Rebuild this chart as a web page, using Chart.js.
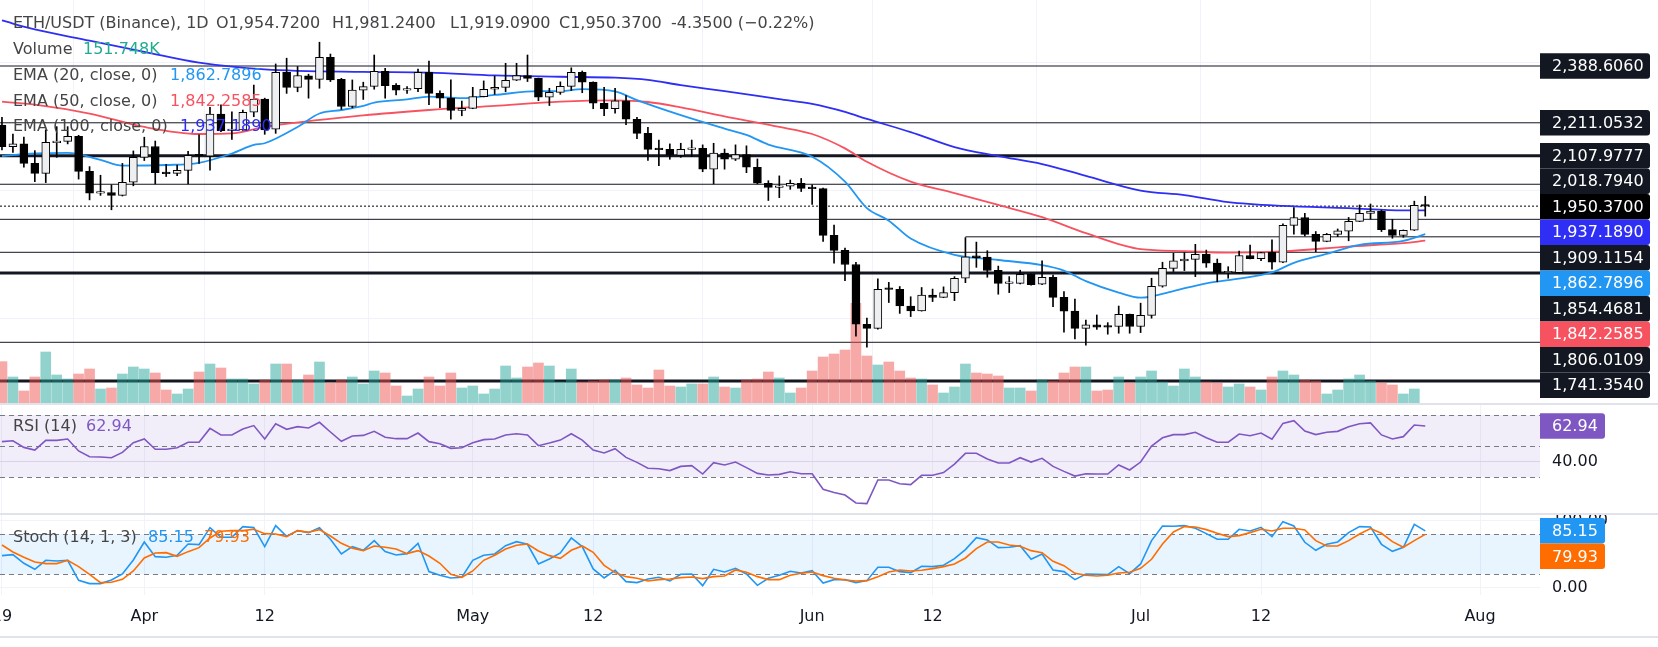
<!DOCTYPE html>
<html>
<head>
<meta charset="utf-8">
<script src="https://cdn.jsdelivr.net/npm/chart.js@4.4.0/dist/chart.umd.min.js"></script>
<style>
html, body { margin: 0; padding: 0; background: #fff; overflow: hidden; }
#wrap { position: relative; width: 1658px; height: 647px; }
canvas { position: absolute; left: 0; }
.sep { position: absolute; left: 0; width: 1658px; height: 2px; background: #e0e3eb; }
</style>
</head>
<body>
<div id="wrap">
  <canvas id="price" width="1658" height="403" style="top:0"></canvas>
  <div class="sep" style="top:403px"></div>
  <canvas id="rsi" width="1658" height="108" style="top:405px"></canvas>
  <div class="sep" style="top:513px"></div>
  <canvas id="stoch" width="1658" height="132" style="top:515px"></canvas>
  <div class="sep" style="top:636px"></div>
</div>
<script>
Chart.defaults.font.family = '"DejaVu Sans", sans-serif'
Chart.defaults.font.size = 16
Chart.defaults.animation = false

// day index: 0 = 1 Apr, first candle is 19 Mar
const firstDay = -13

// daily candles, 19 Mar .. 27 Jul
const open = [
  2204, 2136, 2145, 2084, 2053, 2149, 2153, 2169, 2059, 1991, 1993, 1984, 2025,
  2103, 2137, 2057, 2053, 2062, 2109, 2107, 2238, 2187, 2189, 2244, 2285, 2191, 2369, 2322, 2358, 2347, 2416, 2347, 2262, 2313, 2325, 2372, 2328, 2313, 2318, 2369, 2303, 2288, 2250,
  2256, 2293, 2316, 2322, 2344, 2359, 2350, 2291, 2306, 2325, 2369, 2338, 2272, 2255, 2280, 2222, 2178, 2128, 2128, 2109, 2128, 2131, 2066, 2116, 2097, 2112, 2072, 2022, 2009, 2013, 2022,
  2006, 2005, 1859, 1812, 1768, 1581, 1568, 1691, 1690, 1638, 1623, 1672, 1665, 1680, 1725, 1795, 1791, 1750, 1709, 1709, 1737, 1706, 1728, 1665, 1622, 1568, 1579, 1573, 1574, 1612,
  1574, 1609, 1700, 1756, 1779, 1784, 1800, 1772, 1742, 1742, 1796, 1786, 1806, 1775, 1890, 1915, 1862, 1840, 1862, 1872, 1903, 1928, 1935, 1877, 1859, 1875, 1954.72
]
const high = [
  2228, 2176, 2166, 2124, 2189, 2199, 2199, 2172, 2074, 2047, 2017, 2084, 2123,
  2166, 2154, 2081, 2079, 2122, 2173, 2259, 2267, 2245, 2251, 2329, 2288, 2395, 2413, 2387, 2363, 2463, 2426, 2350, 2345, 2338, 2423, 2381, 2334, 2324, 2379, 2404, 2311, 2345, 2279,
  2322, 2342, 2357, 2397, 2397, 2423, 2351, 2319, 2339, 2383, 2373, 2339, 2322, 2319, 2296, 2228, 2197, 2157, 2145, 2147, 2157, 2142, 2147, 2129, 2142, 2139, 2098, 2030, 2045, 2032, 2037,
  2017, 2007, 1891, 1819, 1775, 1600, 1723, 1712, 1699, 1667, 1696, 1691, 1698, 1730, 1852, 1838, 1811, 1763, 1730, 1750, 1739, 1779, 1735, 1683, 1660, 1594, 1610, 1586, 1638, 1613,
  1647, 1725, 1775, 1803, 1805, 1831, 1813, 1785, 1761, 1810, 1829, 1806, 1845, 1895, 1946, 1928, 1871, 1865, 1879, 1915, 1954, 1957, 1938, 1909, 1876, 1966, 1981.24
]
const low = [
  2126, 2118, 2072, 2027, 2024, 2103, 2145, 2035, 1970, 1984, 1939, 1982, 2014,
  2093, 2020, 2043, 2046, 2020, 2084, 2063, 2183, 2159, 2187, 2230, 2175, 2178, 2303, 2308, 2288, 2319, 2340, 2253, 2258, 2284, 2316, 2288, 2298, 2303, 2308, 2268, 2258, 2222, 2233,
  2255, 2292, 2300, 2308, 2343, 2340, 2280, 2265, 2300, 2312, 2305, 2255, 2233, 2241, 2205, 2161, 2093, 2077, 2097, 2103, 2105, 2058, 2020, 2066, 2093, 2055, 2020, 1968, 1977, 2003, 1996,
  1956, 1840, 1772, 1717, 1544, 1509, 1566, 1649, 1615, 1605, 1622, 1652, 1664, 1655, 1711, 1759, 1728, 1675, 1680, 1707, 1703, 1705, 1636, 1556, 1535, 1516, 1565, 1550, 1553, 1553,
  1555, 1600, 1697, 1746, 1749, 1730, 1759, 1714, 1725, 1740, 1785, 1780, 1753, 1774, 1863, 1857, 1808, 1839, 1855, 1842, 1902, 1910, 1871, 1850, 1853, 1874, 1919.09
]
const close = [
  2136, 2145, 2084, 2053, 2150, 2154, 2169, 2059, 1991, 1993, 1984, 2025, 2103,
  2137, 2055, 2052, 2062, 2109, 2108, 2238, 2186, 2189, 2244, 2285, 2189, 2369, 2322, 2359, 2347, 2416, 2345, 2262, 2313, 2324, 2372, 2327, 2313, 2318, 2369, 2303, 2288, 2250, 2256,
  2293, 2316, 2322, 2344, 2359, 2350, 2291, 2306, 2325, 2369, 2338, 2272, 2255, 2280, 2222, 2178, 2128, 2127, 2110, 2128, 2131, 2066, 2116, 2097, 2112, 2072, 2022, 2009, 2014, 2022, 2006,
  2005, 1859, 1812, 1768, 1581, 1568, 1690, 1690, 1638, 1623, 1672, 1665, 1680, 1725, 1792, 1789, 1749, 1709, 1710, 1737, 1705, 1728, 1665, 1622, 1568, 1579, 1572, 1572, 1612, 1574,
  1609, 1700, 1756, 1779, 1785, 1800, 1772, 1742, 1743, 1796, 1786, 1805, 1775, 1890, 1915, 1862, 1840, 1862, 1873, 1903, 1928, 1935, 1877, 1859, 1875, 1953, 1950.37
]
// volume (K), last day has no bar on the chart
const volume = [
  124, 78, 36, 78, 153, 84, 72, 87, 102, 42, 45, 87, 108,
  102, 90, 39, 27, 42, 93, 117, 105, 72, 72, 57, 69, 117, 117, 69, 84, 123, 60, 69, 78, 57, 96, 90, 51, 21, 42, 78, 51, 90, 45,
  51, 27, 42, 111, 75, 108, 120, 111, 63, 102, 63, 66, 69, 69, 75, 54, 45, 99, 51, 48, 57, 57, 78, 48, 45, 69, 72, 93, 75, 30, 45,
  96, 138, 147, 159, 299, 141, 114, 123, 96, 75, 72, 54, 30, 48, 117, 90, 87, 81, 45, 45, 36, 69, 66, 90, 108, 108, 36, 39, 78, 60,
  78, 96, 63, 51, 102, 78, 63, 60, 48, 57, 48, 39, 78, 96, 84, 69, 66, 27, 39, 72, 84, 66, 60, 54, 27, 42, null
]
const lastVolumeK = 151.748

// moving averages at a few days
const ema20Days = [-13, -10, -7, -4, -2, 2, 5, 8, 10, 11, 14, 16, 18, 20, 21, 24, 26, 29, 32, 36, 38, 40, 43, 45, 49, 53, 55, 57, 61, 64, 66, 68, 70, 74, 78, 82, 84, 86, 89, 91, 94, 97, 99, 103, 105, 108, 111, 115, 117]
const ema20Vals = [2107, 2115, 2117, 2095, 2077, 2079, 2086, 2115, 2142, 2147, 2198, 2240, 2251, 2264, 2274, 2284, 2293, 2288, 2298, 2310, 2310, 2316, 2309, 2282, 2235, 2193, 2173, 2143, 2105, 2027, 1944, 1905, 1849, 1798, 1782, 1766, 1749, 1716, 1680, 1664, 1685, 1709, 1719, 1743, 1773, 1801, 1829, 1842, 1862.7896]
const ema50Days = [-13, -10, -5, 0, 5, 8, 11, 20, 26, 32, 38, 43, 46, 49, 53, 58, 61, 64, 66, 70, 74, 78, 82, 86, 91, 95, 99, 104, 110, 115, 117]
const ema50Vals = [2277, 2268, 2240, 2198, 2176, 2178, 2198, 2234, 2251, 2264, 2277, 2281, 2276, 2259, 2231, 2198, 2176, 2131, 2089, 2027, 1991, 1954, 1916, 1866, 1816, 1810, 1805, 1809, 1824, 1835, 1842.2585]
const ema100Days = [-13, -10, -5, 0, 5, 11, 20, 26, 32, 38, 43, 46, 49, 53, 58, 61, 64, 66, 70, 74, 78, 82, 86, 91, 95, 99, 104, 110, 115, 117]
const ema100Vals = [2531, 2503, 2468, 2433, 2399, 2378, 2370, 2368, 2359, 2355, 2352, 2345, 2329, 2310, 2285, 2270, 2245, 2223, 2182, 2135, 2107, 2082, 2045, 1999, 1985, 1963, 1951, 1944, 1937, 1937.189]

// drawn horizontal levels
const levelValues = [2388.606, 2211.0532, 2107.9777, 2018.794, 1909.1154, 1854.4681, 1806.0109, 1741.354, 1524.6, 1403.6]
const levelFrom = [null, null, null, null, null, 75, null, null, null, null]
const levelWidth = [1, 1, 3, 1, 1, 1, 1, 3, 1, 3]
const levelTagged = [true, true, true, true, true, true, true, true, false, false]

const rsi = [
  52.9, 53.5, 49.2, 47.5, 53.7, 53.7, 54.6, 46.9, 43.2, 43.0, 42.6, 46.0, 52.2,
  54.6, 48.0, 48.0, 49.0, 52.5, 52.5, 61.4, 57.2, 57.2, 61.0, 63.2, 54.6, 64.4, 60.8, 62.5, 61.7, 65.3, 59.1, 53.1, 56.5, 56.9, 59.5, 55.7, 54.8, 54.8, 58.4, 52.9, 51.6, 48.6, 49.0,
  52.2, 54.2, 54.6, 57.2, 58.0, 57.2, 50.3, 52.0, 53.9, 58.0, 53.9, 47.5, 45.6, 48.4, 42.8, 39.6, 35.8, 35.5, 34.3, 37.0, 37.5, 32.1, 39.4, 37.9, 39.8, 36.2, 32.5, 31.5, 31.9, 33.6, 32.3,
  32.3, 22.3, 20.3, 18.6, 13.5, 13.1, 28.3, 28.3, 25.9, 25.3, 31.3, 31.3, 33.0, 38.5, 45.4, 45.4, 41.7, 39.2, 39.2, 42.6, 39.8, 42.2, 37.0, 33.8, 30.8, 32.3, 32.1, 32.1, 37.9, 34.7,
  39.8, 50.1, 55.4, 57.4, 57.4, 58.9, 55.4, 52.5, 52.5, 57.8, 56.7, 58.4, 54.4, 64.6, 66.4, 59.7, 57.4, 58.9, 59.5, 62.5, 64.4, 64.9, 57.2, 54.6, 56.1, 63.6, 62.94
]
const stochK = [
  48, 49.5, 36.5, 27.5, 41, 40, 41, 11, 6, 6, 11.5, 20.5, 41.5,
  68.5, 46.5, 45.5, 48.5, 65.5, 64.5, 90, 75.5, 75.5, 91.5, 90, 61.5, 93, 77, 85.5, 82.5, 90, 72.5, 50.5, 61.5, 56, 70.5, 54, 49, 51, 66.5, 24, 18.5, 14.5, 15.5,
  41, 48.5, 50.5, 63, 69, 65, 35.5, 43, 52, 74.5, 61.5, 28, 14.5, 26, 9, 7.5, 13, 15.5, 10, 20, 20.5, 3, 27.5, 23.5, 29, 20.5, 3.5, 14, 18.5, 24.5, 22,
  25.5, 7, 12, 12, 7.5, 10.5, 30.5, 30.5, 24, 22.5, 32, 31.5, 33.5, 43.5, 57, 75, 71.5, 60, 60.5, 63, 42.5, 50.5, 26.5, 24, 12, 20.5, 20, 19.5, 31.5, 21,
  35.5, 70.5, 92.5, 92, 93, 89, 81, 72.5, 72.5, 87.5, 85, 90.5, 76.5, 99, 92.5, 68, 56, 65, 68.5, 82.5, 91.5, 91, 65, 54.5, 60.5, 95, 85.15
]
const stochD = [
  64, 53.5, 45.5, 38.5, 36, 36, 41, 31.5, 20, 7.5, 8, 12.5, 25,
  44.5, 52, 52.5, 47, 54, 60, 74.5, 84.5, 85.5, 85.5, 87.5, 81, 80.5, 76.5, 85.5, 83, 87, 77.5, 66.5, 59, 55.5, 62.5, 60.5, 58, 51, 55.5, 47.5, 36.5, 20, 15.5,
  25, 41, 48.5, 58, 63.5, 65.5, 55, 48, 44, 56, 62.5, 53, 33.5, 22.5, 16.5, 14, 10, 12, 13, 15, 16, 13.5, 16.5, 17.5, 26.5, 23, 16.5, 12, 12, 18.5, 21.5,
  23.5, 18, 14, 11.5, 10, 10.5, 16.5, 23.5, 26.5, 25, 26, 28.5, 31.5, 35.5, 44.5, 58.5, 68.5, 68.5, 64, 62, 55.5, 52.5, 39.5, 33, 21.5, 18.5, 17.5, 18.5, 22, 23,
  29, 42.5, 65.5, 83.5, 91.5, 91, 87, 81.5, 76.5, 78, 82.5, 87.5, 85, 89, 89, 86.5, 70.5, 62.5, 62.5, 70.5, 80.5, 88.5, 81.5, 69, 60.5, 70.5, 79.93
]

const xTickDays = [-13, 0, 11, 30, 41, 61, 72, 91, 102, 122]
const xTickLabels = ['19', 'Apr', '12', 'May', '12', 'Jun', '12', 'Jul', '12', 'Aug']
const priceGrid = [1600, 2000, 2400]
const rsiGrid = [40]
const rsiBands = [70, 50, 30]
const stochGrid = [0, 100]
const stochBands = [80, 20]

const days = open.map((v, i) => firstDay + i)
const isUp = close.map((c, i) => c >= open[i])
const last = close.length - 1

const X_MIN = -13.18, X_MAX = 127.48
const AXIS_W = 118
const TAG_H = 25.5
const TEXT = '#444'

const col = {
  ema20: '#2196f3', ema50: '#f7525f', ema100: '#2e2ef5',
  rsi: '#7e57c2', k: '#2196f3', d: '#ff6d00', tag: '#131722'
}

const fmt4 = v => v.toLocaleString('en-US', { minimumFractionDigits: 4, maximumFractionDigits: 4 })

function xScale() {
  return {
    type: 'linear', min: X_MIN, max: X_MAX, offset: false,
    grid: { color: '#f0f3fa', drawTicks: false },
    border: { display: false },
    ticks: { display: false },
    afterBuildTicks: s => { s.ticks = xTickDays.map(v => ({ value: v })) }
  }
}
function yScale(min, max, grid, gridColor) {
  return {
    type: 'linear', position: 'right', min, max,
    grid: { color: gridColor, drawTicks: false },
    border: { display: false },
    ticks: { display: false },
    afterBuildTicks: s => { s.ticks = grid.map(v => ({ value: v })) },
    afterFit: s => { s.width = 0 }
  }
}

function stackTags(list, scale) {
  let prev = -Infinity
  return list.map(t => {
    const want = scale.getPixelForValue(t.v)
    const y = want < prev + TAG_H + 4 ? prev + TAG_H : want
    prev = y
    return Object.assign({}, t, { y })
  })
}
function drawTags(ctx, left, width, tags) {
  ctx.font = '16px "DejaVu Sans"'
  ctx.textBaseline = 'middle'
  ctx.textAlign = 'left'
  tags.forEach(t => {
    ctx.fillStyle = t.bg
    ctx.beginPath()
    ctx.roundRect(left, t.y - TAG_H / 2, width, TAG_H, [0, 3, 3, 0])
    ctx.fill()
    ctx.fillStyle = '#ffffff'
    ctx.fillText(t.txt, left + 12, t.y + 1)
  })
}
function text(ctx, s, x, y, color) {
  ctx.fillStyle = color
  ctx.fillText(s, x, y)
}

// ---------- price pane ----------
const levelSets = levelValues.map((v, i) => ({
  type: 'line',
  data: [{ x: levelFrom[i] === null ? X_MIN : levelFrom[i], y: v }, { x: X_MAX, y: v }],
  borderColor: '#131722', borderWidth: levelWidth[i], pointRadius: 0, order: 9
}))

const priceOverlay = {
  id: 'priceOverlay',
  afterDraw(chart) {
    const { ctx, chartArea: a } = chart
    const ys = chart.scales.y
    ctx.save()
    ctx.font = '16px "DejaVu Sans"'
    ctx.textBaseline = 'middle'
    ctx.textAlign = 'left'

    const chg = close[last] - open[last]
    const pct = chg / open[last] * 100
    text(ctx, 'ETH/USDT (Binance), 1D', 13, 24, TEXT)
    text(ctx, 'O' + fmt4(open[last]), 216, 24, TEXT)
    text(ctx, 'H' + fmt4(high[last]), 332, 24, TEXT)
    text(ctx, 'L' + fmt4(low[last]), 450, 24, TEXT)
    text(ctx, 'C' + fmt4(close[last]), 559, 24, TEXT)
    text(ctx, (chg < 0 ? '-' : '+') + Math.abs(chg).toFixed(4) + ' (' + (chg < 0 ? '\u2212' : '+') + Math.abs(pct).toFixed(2) + '%)', 671, 24, TEXT)

    text(ctx, 'Volume', 13, 50, TEXT)
    text(ctx, lastVolumeK.toFixed(3) + 'K', 83, 50, '#22ab94')
    text(ctx, 'EMA (20, close, 0)', 13, 76, TEXT)
    text(ctx, fmt4(ema20Vals[ema20Vals.length - 1]), 170, 76, col.ema20)
    text(ctx, 'EMA (50, close, 0)', 13, 102, TEXT)
    text(ctx, fmt4(ema50Vals[ema50Vals.length - 1]), 170, 102, col.ema50)
    text(ctx, 'EMA (100, close, 0)', 13, 127, TEXT)
    text(ctx, fmt4(ema100Vals[ema100Vals.length - 1]), 180, 127, col.ema100)

    const tags = []
    levelValues.forEach((v, i) => { if (levelTagged[i]) tags.push({ v, bg: col.tag }) })
    tags.push({ v: close[last], bg: '#000000' })
    tags.push({ v: ema20Vals[ema20Vals.length - 1], bg: col.ema20 })
    tags.push({ v: ema50Vals[ema50Vals.length - 1], bg: col.ema50 })
    tags.push({ v: ema100Vals[ema100Vals.length - 1], bg: col.ema100 })
    tags.sort((p, q) => q.v - p.v)
    tags.forEach(t => { t.txt = fmt4(t.v) })
    drawTags(ctx, a.right, 110, stackTags(tags, ys))
    ctx.restore()
  }
}

new Chart(document.getElementById('price'), {
  type: 'bar',
  data: {
    datasets: [
      {
        type: 'bar', yAxisID: 'y', order: 1, grouped: false,
        data: days.map((d, i) => ({ x: d, y: [open[i], close[i]] })),
        backgroundColor: isUp.map(u => u ? '#eeeff1' : '#000000'),
        borderColor: '#000000', borderWidth: 1, borderSkipped: false,
        barThickness: 8, minBarLength: 1.5
      },
      {
        type: 'bar', yAxisID: 'y', order: 2, grouped: false,
        data: days.map((d, i) => ({ x: d, y: [low[i], high[i]] })),
        backgroundColor: '#000000', barThickness: 1
      },
      {
        type: 'bar', yAxisID: 'yv', order: 3, grouped: false,
        data: days.map((d, i) => ({ x: d, y: volume[i] })),
        backgroundColor: isUp.map(u => u ? 'rgba(38,166,154,0.5)' : 'rgba(239,83,80,0.5)'),
        barThickness: 10
      },
      {
        type: 'line', order: 4, data: ema20Days.map((d, i) => ({ x: d, y: ema20Vals[i] })),
        borderColor: col.ema20, borderWidth: 1.8, pointRadius: 0, cubicInterpolationMode: 'monotone'
      },
      {
        type: 'line', order: 5, data: ema50Days.map((d, i) => ({ x: d, y: ema50Vals[i] })),
        borderColor: col.ema50, borderWidth: 1.8, pointRadius: 0, cubicInterpolationMode: 'monotone'
      },
      {
        type: 'line', order: 6, data: ema100Days.map((d, i) => ({ x: d, y: ema100Vals[i] })),
        borderColor: col.ema100, borderWidth: 1.8, pointRadius: 0, cubicInterpolationMode: 'monotone'
      },
      {
        type: 'line', order: 8, data: [{ x: X_MIN, y: close[last] }, { x: X_MAX, y: close[last] }],
        borderColor: '#000000', borderWidth: 1, borderDash: [2, 2], pointRadius: 0
      },
      ...levelSets
    ]
  },
  options: {
    responsive: false,
    layout: { padding: { left: 0, right: AXIS_W, top: 0, bottom: 0 } },
    plugins: { legend: { display: false }, tooltip: { enabled: false } },
    scales: {
      x: xScale(),
      y: yScale(1334.8, 2595.0, priceGrid, '#f0f3fa'),
      yv: { type: 'linear', display: false, min: 0, max: 1209 }
    }
  },
  plugins: [priceOverlay]
})

// ---------- RSI and Stoch panes ----------
function bandPlugin(id, bands, fill) {
  return {
    id,
    beforeDatasetsDraw(chart) {
      const { ctx, chartArea: a } = chart
      const y = chart.scales.y
      const top = y.getPixelForValue(bands[0]), bot = y.getPixelForValue(bands[bands.length - 1])
      ctx.save()
      ctx.fillStyle = fill
      ctx.fillRect(a.left, top, a.right - a.left, bot - top)
      ctx.strokeStyle = '#787b86'
      ctx.lineWidth = 1
      ctx.setLineDash([5, 4])
      bands.forEach(v => {
        const py = Math.round(y.getPixelForValue(v)) + 0.5
        ctx.beginPath(); ctx.moveTo(a.left, py); ctx.lineTo(a.right, py); ctx.stroke()
      })
      ctx.restore()
    }
  }
}

const rsiOverlay = {
  id: 'rsiOverlay',
  afterDraw(chart) {
    const { ctx, chartArea: a } = chart
    const y = chart.scales.y
    ctx.save()
    ctx.font = '16px "DejaVu Sans"'
    ctx.textBaseline = 'middle'
    ctx.textAlign = 'left'
    text(ctx, 'RSI (14)', 13, 22, TEXT)
    text(ctx, rsi[last].toFixed(2), 86, 22, col.rsi)
    rsiGrid.forEach(v => text(ctx, v.toFixed(2), a.right + 12, y.getPixelForValue(v), '#131722'))
    drawTags(ctx, a.right, 65, stackTags([{ v: rsi[last], bg: col.rsi, txt: rsi[last].toFixed(2) }], y))
    ctx.restore()
  }
}

new Chart(document.getElementById('rsi'), {
  type: 'line',
  data: {
    datasets: [{
      data: days.map((d, i) => ({ x: d, y: rsi[i] })),
      borderColor: col.rsi, borderWidth: 1.6, pointRadius: 0
    }]
  },
  options: {
    responsive: false,
    layout: { padding: { left: 0, right: AXIS_W, top: 0, bottom: 0 } },
    plugins: { legend: { display: false }, tooltip: { enabled: false } },
    scales: { x: xScale(), y: yScale(7.08, 76.42, rsiGrid, '#e4e0ec') }
  },
  plugins: [bandPlugin('rsiBand', rsiBands, 'rgba(126,87,194,0.1)'), rsiOverlay]
})

const stochOverlay = {
  id: 'stochOverlay',
  afterDraw(chart) {
    const { ctx, chartArea: a } = chart
    const y = chart.scales.y
    const x = chart.scales.x
    ctx.save()
    ctx.font = '16px "DejaVu Sans"'
    ctx.textBaseline = 'middle'
    ctx.textAlign = 'left'
    text(ctx, 'Stoch (14, 1, 3)', 13, 23, TEXT)
    text(ctx, stochK[last].toFixed(2), 148, 23, col.k)
    text(ctx, stochD[last].toFixed(2), 204, 23, col.d)
    stochGrid.forEach(v => text(ctx, v.toFixed(2), a.right + 12, y.getPixelForValue(v), '#131722'))
    drawTags(ctx, a.right, 65, stackTags([
      { v: stochK[last], bg: col.k, txt: stochK[last].toFixed(2) },
      { v: stochD[last], bg: col.d, txt: stochD[last].toFixed(2) }
    ], y))
    ctx.textAlign = 'center'
    ctx.fillStyle = '#131722'
    xTickDays.forEach((d, i) => ctx.fillText(xTickLabels[i], x.getPixelForValue(d), a.bottom + 22))
    ctx.restore()
  }
}

new Chart(document.getElementById('stoch'), {
  type: 'line',
  data: {
    datasets: [
      { data: days.map((d, i) => ({ x: d, y: stochD[i] })), borderColor: col.d, borderWidth: 1.6, pointRadius: 0 },
      { data: days.map((d, i) => ({ x: d, y: stochK[i] })), borderColor: col.k, borderWidth: 1.6, pointRadius: 0 }
    ]
  },
  options: {
    responsive: false,
    layout: { padding: { left: 0, right: AXIS_W, top: 0, bottom: 52 } },
    plugins: { legend: { display: false }, tooltip: { enabled: false } },
    scales: { x: xScale(), y: yScale(-11.05, 108.95, stochGrid, '#f0f3fa') }
  },
  plugins: [bandPlugin('stochBand', stochBands, 'rgba(33,150,243,0.1)'), stochOverlay]
})
</script>
</body>
</html>
